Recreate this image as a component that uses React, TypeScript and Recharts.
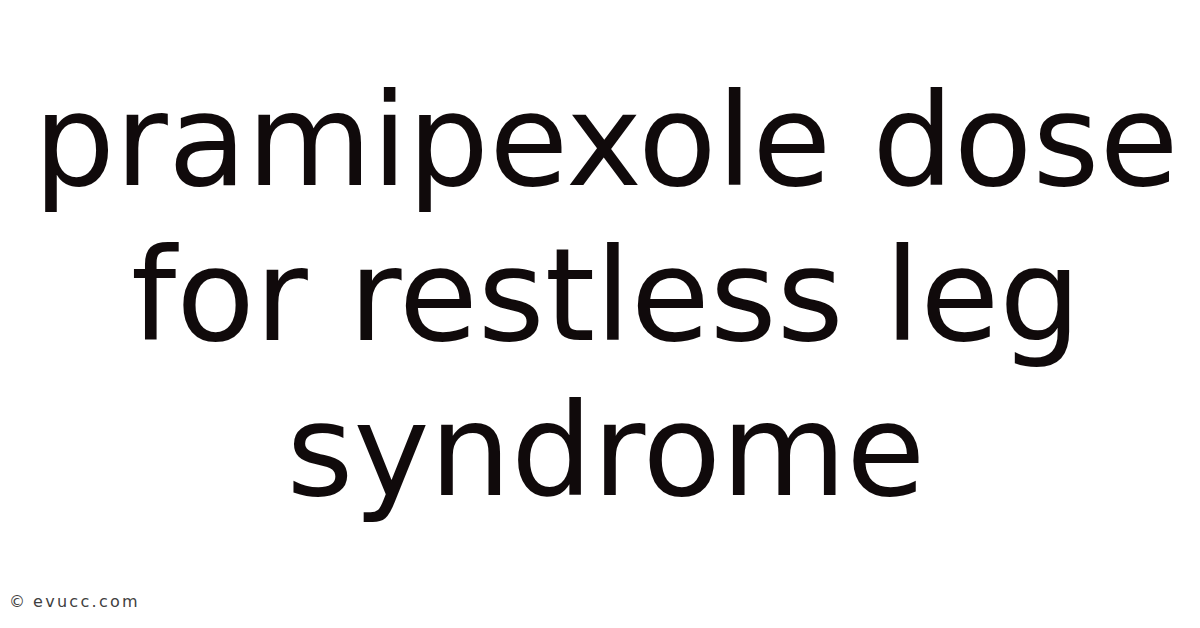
import { Surface, Text } from "recharts";

const titleLines = ["pramipexole dose", "for restless leg", "syndrome"];
const lineBaselines = [185, 340, 495];
const watermarkSymbol = "©";
const watermarkSite = "evucc.com";

const WIDTH = 1200;
const HEIGHT = 628;

const App = () => {
  return (
    <div style={{ position: "fixed", left: 0, top: 0, width: WIDTH, height: HEIGHT, background: "#ffffff" }}>
      <Surface width={WIDTH} height={HEIGHT}>
        <rect x={0} y={0} width={WIDTH} height={HEIGHT} fill="#ffffff" />
        {titleLines.map((line, i) => (
          <Text
            key={line}
            x={606}
            y={lineBaselines[i]}
            textAnchor="middle"
            verticalAnchor="end"
            fontFamily="DejaVu Sans"
            fontSize={128.5}
            fill="#100a0b"
          >
            {line}
          </Text>
        ))}
        {/* watermark, bottom left */}
        <Text x={9} y={607} verticalAnchor="end" fontFamily="DejaVu Sans" fontSize={16} fill="#404040">
          {watermarkSymbol}
        </Text>
        <Text
          x={33}
          y={607}
          verticalAnchor="end"
          fontFamily="DejaVu Sans"
          fontSize={16}
          letterSpacing={2.3}
          fill="#404040"
        >
          {watermarkSite}
        </Text>
      </Surface>
    </div>
  );
};

export default App;
